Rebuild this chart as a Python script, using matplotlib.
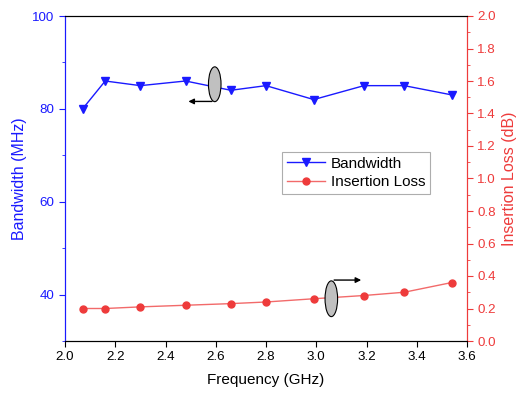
import matplotlib
matplotlib.use("Agg")
import matplotlib.pyplot as plt
from matplotlib.patches import Ellipse
from matplotlib.ticker import MultipleLocator

plt.rcParams['font.family'] = ['Liberation Sans', 'DejaVu Sans']

freq = [2.07, 2.16, 2.30, 2.48, 2.66, 2.80, 2.99, 3.19, 3.35, 3.54]
bandwidth = [80, 86, 85, 86, 84, 85, 82, 85, 85, 83]
insertion_loss = [0.20, 0.20, 0.21, 0.22, 0.23, 0.24, 0.26, 0.28, 0.30, 0.36]

blue = '#1a1aff'
red = '#ee3b3b'

fig = plt.figure(figsize=(5.17, 3.97), dpi=100)
ax = fig.add_axes([65/517, 1-341/397, (467-65)/517, (341-16)/397])
ax2 = ax.twinx()

l1, = ax.plot(freq, bandwidth, color=blue, lw=1.0, marker='v', ms=6, label='Bandwidth')
l2, = ax2.plot(freq, insertion_loss, color='#f26a6a', lw=1.0, marker='o', ms=5,
               mfc=red, mec=red, label='Insertion Loss')

ax.set_xlim(2.0, 3.6)
ax.set_ylim(30, 100)
ax2.set_ylim(0, 2.0)
ax.xaxis.set_major_locator(MultipleLocator(0.2))
ax.yaxis.set_minor_locator(MultipleLocator(10))
ax.set_yticks([40, 60, 80, 100])
ax2.yaxis.set_major_locator(MultipleLocator(0.2))
ax2.yaxis.set_minor_locator(MultipleLocator(0.1))
ax.xaxis.set_major_formatter(plt.FormatStrFormatter('%.1f'))
ax2.yaxis.set_major_formatter(plt.FormatStrFormatter('%.1f'))

fs = 9.6
ax.tick_params(axis='x', direction='out', length=4, labelsize=fs, colors='black')
ax.tick_params(axis='y', which='major', direction='out', length=4, labelsize=fs, colors=blue)
ax.tick_params(axis='y', which='minor', direction='out', length=2, colors=blue)
ax2.tick_params(axis='y', which='major', direction='out', length=4, labelsize=fs, colors=red)
ax2.tick_params(axis='y', which='minor', direction='out', length=2, colors=red)

for a in (ax, ax2):
    a.spines['left'].set_color(blue)
    a.spines['right'].set_color(red)
    a.spines['top'].set_color('black')
    a.spines['bottom'].set_color('black')

ax.set_xlabel('Frequency (GHz)', fontsize=11, labelpad=7)
ax.set_ylabel('Bandwidth (MHz)', fontsize=11.5, color=blue, labelpad=4)
ax2.set_ylabel('Insertion Loss (dB)', fontsize=11.5, color=red, labelpad=4)

# Annotation ellipses and arrows
e1 = Ellipse((2.596, 85.3), 0.05, 7.5, facecolor='#c0c0c0', edgecolor='black', lw=0.8, zorder=5)
ax.add_patch(e1)
ax.annotate('', xy=(2.48, 81.6), xytext=(2.596, 81.6),
            arrowprops=dict(arrowstyle='-|>', color='black', lw=1.0, mutation_scale=8), zorder=6)
e2 = Ellipse((3.06, 0.26), 0.05, 0.22, facecolor='#c0c0c0', edgecolor='black', lw=0.8, zorder=5)
ax2.add_patch(e2)
ax2.annotate('', xy=(3.19, 0.375), xytext=(3.06, 0.375),
             arrowprops=dict(arrowstyle='-|>', color='black', lw=1.0, mutation_scale=8), zorder=6)

leg = ax2.legend(handles=[l1, l2], loc='upper left', bbox_to_anchor=((282-65)/402, 1-(152-16)/325),
                 fontsize=11, frameon=True, fancybox=False, edgecolor='#999999',
                 handlelength=2.5, borderpad=0.3, labelspacing=0.3, handletextpad=0.4,
                 borderaxespad=0)
leg.get_frame().set_linewidth(0.8)

fig.savefig('out.png', dpi=100)
